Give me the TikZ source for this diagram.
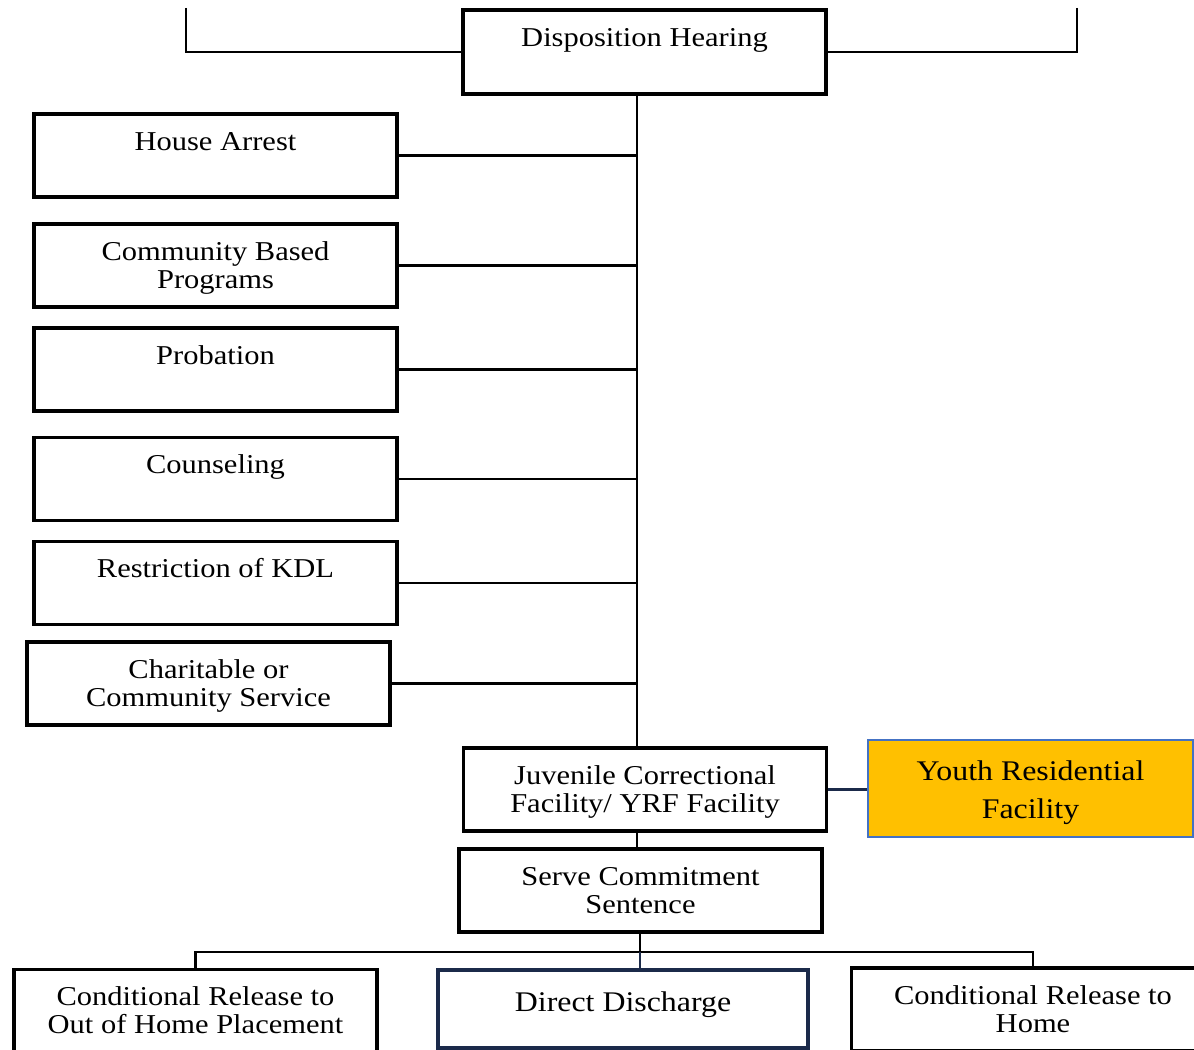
\documentclass[tikz,border=0pt]{standalone}
\usepackage{fontspec}
\setmainfont{Liberation Serif}[FakeStretch=1.12]
\definecolor{facyellow}{HTML}{FFC000}
\definecolor{facblue}{HTML}{4472C4}
\definecolor{navy}{HTML}{1B2A4A}
\tikzset{
  optbox/.style={draw, line width=1.9pt, rectangle, minimum width=7.26cm, minimum height=1.66cm,
    align=center, text height=11pt, text depth=17pt, font=\fontsize{15.5}{16}\selectfont},
  twoline/.style={text height=27pt, text depth=1pt},
  link/.style={line width=1.6pt},
}
\begin{document}
\begin{tikzpicture}[x=0.02cm, y=-0.02cm]
        \useasboundingbox (0,0) rectangle (1194,1050);
        \clip (0,0) rectangle (1194,1050);

        % Hearing and trunk
        \node[optbox, minimum height=1.68cm] (hearing) at (644.5,52) {Disposition Hearing};
        \coordinate (trunk) at (637,0);
        \coordinate (topleft) at (186,8);
        \coordinate (topright) at (1077,8);
        \draw[link] (topleft) |- (hearing.west);
        \draw[link] (topright) |- (hearing.east);

        % Options on the left
        \node[optbox] (house) at (215.5,155.5) {House Arrest};
        \node[optbox, twoline] (community) at (215.5,265.5) {Community Based\\Programs};
        \node[optbox] (probation) at (215.5,369.5) {Probation};
        \node[optbox] (counsel) at (215.5,479) {Counseling};
        \node[optbox] (kdl) at (215.5,583) {Restriction of KDL};
        \node[optbox, twoline] (charity) at (208.5,683.5) {Charitable or\\Community Service};

        % Commitment
        \node[optbox, twoline] (jcf) at (645,789.5) {Juvenile Correctional\\Facility/ YRF Facility};
        \node[optbox, draw=facblue, line width=0.9pt, fill=facyellow, minimum width=6.5cm, minimum height=1.94cm,
          text height=34pt, text depth=0pt, font=\fontsize{16.2}{21.5}\selectfont]
          (youth) at (1030.5,788.5) {Youth Residential\\Facility};
        \node[optbox, twoline] (serve) at (640.5,890.5) {Serve Commitment\\Sentence};

        % Release
        \node[optbox, twoline] (condout) at (195.5,1011) {Conditional Release to\\Out of Home Placement};
        \node[optbox, draw=navy, line width=2.4pt, minimum width=7.4cm, minimum height=1.56cm,
          text height=11pt, text depth=8pt, font=\fontsize{16.2}{17}\selectfont]
          (discharge) at (623,1009) {Direct Discharge};
        \node[optbox, twoline] (condhome) at (1033,1009.5) {Conditional Release to\\Home};

        % Connectors
        \draw[link] (hearing.south -| trunk) -- (jcf.north -| trunk);
        \foreach \opt in {house, community, probation, counsel, kdl, charity}
          \draw[link] (\opt.east) -- (\opt.east -| trunk);
        \draw[navy, line width=2pt] (jcf.east) -- (jcf.east -| youth.west);
        \draw[link] (jcf.south -| trunk) -- (serve.north -| trunk);
        \coordinate (split) at (640,952);
        \draw[link] (serve.south -| split) -- (split);
        \draw[link] (split) -| (condout.north);
        \draw[link] (split) -| (condhome.north);
        \draw[navy, line width=1.2pt] (split) -- (discharge.north -| split);
    \end{tikzpicture}
\end{document}
